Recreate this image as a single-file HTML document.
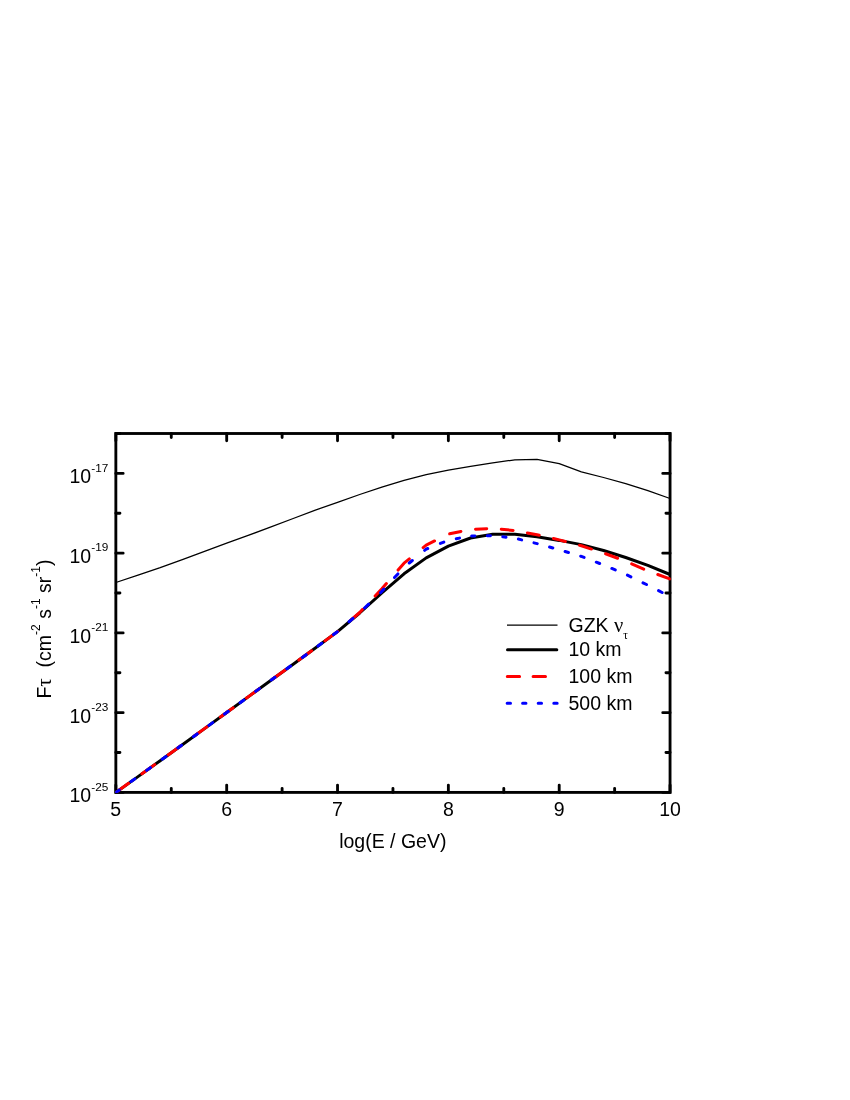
<!DOCTYPE html>
<html><head><meta charset="utf-8"><title>chart</title>
<style>html,body{margin:0;padding:0;background:#fff}svg{display:block;will-change:transform}text{font-family:"Liberation Sans",sans-serif;fill:#000}.sy{font-family:"Liberation Serif",serif}</style></head><body>
<svg width="850" height="1100" viewBox="0 0 850 1100">
<rect width="850" height="1100" fill="#fff"/>
<defs><clipPath id="c"><rect x="115.14999999999999" y="432.8" width="555.60" height="360.30"/></clipPath></defs>
<rect x="115.85" y="433.5" width="554.20" height="358.90" fill="none" stroke="#000" stroke-width="2.85"/>
<path d="M115.85,792.4 V785.10 M115.85,433.5 V440.80 M171.27,792.4 V788.30 M171.27,433.5 V437.60 M226.69,792.4 V785.10 M226.69,433.5 V440.80 M282.11,792.4 V788.30 M282.11,433.5 V437.60 M337.53,792.4 V785.10 M337.53,433.5 V440.80 M392.95,792.4 V788.30 M392.95,433.5 V437.60 M448.37,792.4 V785.10 M448.37,433.5 V440.80 M503.79,792.4 V788.30 M503.79,433.5 V437.60 M559.21,792.4 V785.10 M559.21,433.5 V440.80 M614.63,792.4 V788.30 M614.63,433.5 V437.60 M670.05,792.4 V785.10 M670.05,433.5 V440.80 M115.85,792.40 H123.15 M670.05,792.40 H662.75 M115.85,752.52 H119.95 M670.05,752.52 H665.95 M115.85,712.64 H123.15 M670.05,712.64 H662.75 M115.85,672.77 H119.95 M670.05,672.77 H665.95 M115.85,632.89 H123.15 M670.05,632.89 H662.75 M115.85,593.01 H119.95 M670.05,593.01 H665.95 M115.85,553.13 H123.15 M670.05,553.13 H662.75 M115.85,513.26 H119.95 M670.05,513.26 H665.95 M115.85,473.38 H123.15 M670.05,473.38 H662.75 M115.85,433.50 H119.95 M670.05,433.50 H665.95" fill="none" stroke="#000" stroke-width="2.85" stroke-linecap="round"/>
<g clip-path="url(#c)" fill="none" stroke-linejoin="round">
<path d="M115.85,582.50 L138.02,575.10 L160.19,567.70 L182.35,559.60 L204.52,551.40 L226.69,543.20 L248.86,535.20 L271.03,526.90 L293.19,518.50 L315.36,510.10 L337.53,502.30 L359.70,494.50 L381.87,487.10 L404.03,480.30 L426.20,474.60 L448.37,470.10 L470.54,466.30 L492.71,462.90 L514.87,459.80 L537.04,459.40 L559.21,463.70 L581.38,471.80 L603.55,477.50 L625.71,483.60 L647.88,490.70 L670.05,498.50" stroke="#000" stroke-width="1.25"/>
<path d="M115.85,792.40 L138.02,776.60 L160.19,760.70 L182.35,744.70 L204.52,728.60 L226.69,712.50 L248.86,696.40 L271.03,680.20 L293.19,664.20 L315.36,648.00 L337.53,631.60 L359.70,613.00 L381.87,592.90 L404.03,573.80 L426.20,557.90 L448.37,546.10 L470.54,538.00 L492.71,534.30 L514.87,534.30 L537.04,536.80 L559.21,540.40 L581.38,544.60 L603.55,550.50 L625.71,557.50 L647.88,565.30 L670.05,574.50" stroke="#000" stroke-width="3"/>
<path d="M115.82,792.42 L115.85,792.40 L128.58,783.33 M141.97,773.77 L154.73,764.61 M168.12,754.98 L180.88,745.76 M194.26,736.05 L204.52,728.60 L207.04,726.77 M220.41,717.06 L226.69,712.50 L233.19,707.78 M246.56,698.07 L248.86,696.40 L259.34,688.74 M272.72,678.98 L285.48,669.76 M298.86,660.06 L311.64,650.72 M325.01,640.87 L337.53,631.60 L337.79,631.37 M351.09,619.92 L359.70,612.50 L362.66,609.33 M375.12,596.01 L381.87,588.80 L386.38,583.59 M398.08,570.07 L404.03,563.20 L409.32,558.89 M423.14,547.60 L426.20,545.10 L434.56,540.95 M449.67,533.82 L460.93,531.44 M475.50,529.18 L486.70,528.67 M501.29,529.25 L513.11,530.42 M527.37,532.91 L537.04,534.70 L539.23,535.21 M553.45,538.55 L559.21,539.90 L565.35,541.53 M579.53,545.31 L581.38,545.80 L591.47,549.08 M605.60,553.77 L617.60,558.26 M631.68,563.88 L643.72,569.10 M657.81,574.53 L669.79,578.91" stroke="#f00" stroke-width="3" stroke-linecap="round"/>
<path d="M115.52,792.63 L115.85,792.40 L119.28,789.96 M131.10,781.53 L134.85,778.86 M146.67,770.40 L150.43,767.70 M162.24,759.22 L166.01,756.50 M177.82,747.98 L181.58,745.26 M193.39,736.69 L197.16,733.95 M208.96,725.37 L212.74,722.63 M224.54,714.06 L226.69,712.50 L228.31,711.32 M240.11,702.75 L243.89,700.01 M255.69,691.41 L259.46,688.65 M271.27,680.03 L275.03,677.31 M286.84,668.79 L290.61,666.07 M302.41,657.46 L306.19,654.70 M317.98,646.06 L321.77,643.26 M333.56,634.54 L337.34,631.74 M349.07,621.76 L352.98,618.42 M364.58,607.99 L368.62,604.09 M380.49,592.63 L381.87,591.30 L383.86,589.14 M394.52,577.60 L397.88,573.96 M409.26,563.01 L412.34,560.48 M424.66,550.37 L426.20,549.10 L427.74,548.49 M440.39,543.47 L443.81,542.11 M456.27,538.77 L459.53,538.14 M471.65,535.98 L474.85,535.92 M487.24,535.70 L490.44,535.64 M502.82,536.79 L506.04,537.16 M518.38,539.05 L521.66,539.85 M533.97,542.85 L537.04,543.60 L537.25,543.66 M549.55,547.04 L552.85,547.95 M565.13,551.49 L568.45,552.49 M580.68,556.19 L581.38,556.40 L584.08,557.45 M596.27,562.18 L599.67,563.50 M611.84,568.48 L615.28,569.92 M627.40,575.13 L630.90,576.85 M642.99,582.79 L646.49,584.52 M658.56,590.69 L662.10,592.51" stroke="#00f" stroke-width="3" stroke-linecap="round"/>
</g>
<text x="115.8" y="816.4" font-size="19.5" text-anchor="middle">5</text>
<text x="226.7" y="816.4" font-size="19.5" text-anchor="middle">6</text>
<text x="337.5" y="816.4" font-size="19.5" text-anchor="middle">7</text>
<text x="448.4" y="816.4" font-size="19.5" text-anchor="middle">8</text>
<text x="559.2" y="816.4" font-size="19.5" text-anchor="middle">9</text>
<text x="670.0" y="816.4" font-size="19.5" text-anchor="middle">10</text>
<text x="69.5" y="802.4" font-size="19.5">10<tspan font-size="11.8" dy="-11.8">-25</tspan></text>
<text x="69.5" y="722.6" font-size="19.5">10<tspan font-size="11.8" dy="-11.8">-23</tspan></text>
<text x="69.5" y="642.8" font-size="19.5">10<tspan font-size="11.8" dy="-11.8">-21</tspan></text>
<text x="69.5" y="563.1" font-size="19.5">10<tspan font-size="11.8" dy="-11.8">-19</tspan></text>
<text x="69.5" y="483.3" font-size="19.5">10<tspan font-size="11.8" dy="-11.8">-17</tspan></text>
<text x="392.8" y="848.3" font-size="19.5" text-anchor="middle">log(E / GeV)</text>
<text transform="translate(50.8,698.6) rotate(-90)" font-size="19.5" xml:space="preserve">F<tspan class="sy" font-size="21">τ</tspan>  (cm<tspan font-size="12" dy="-11">-2</tspan><tspan dy="11"> s</tspan><tspan font-size="12" dy="-11">-1</tspan><tspan dy="11"> sr</tspan><tspan font-size="12" dy="-11">-1</tspan><tspan dy="11">)</tspan></text>
<path d="M507,625.1 H557.5" stroke="#000" stroke-width="1.25" fill="none"/>
<path d="M507.5,649.7 H556.8" stroke="#000" stroke-width="3" stroke-linecap="round" fill="none"/>
<path d="M507.3,676.4 H519.6 M533.1,676.4 H545.5" stroke="#f00" stroke-width="3" stroke-linecap="round" fill="none"/>
<path d="M507.15,703.2 H510.5 M522.6,703.2 H525.95 M538.2,703.2 H541.55 M553.8,703.2 H557.15" stroke="#00f" stroke-width="3" stroke-linecap="round" fill="none"/>
<text x="568.5" y="631.6" font-size="19.5">GZK <tspan class="sy" font-size="20.5">ν</tspan><tspan class="sy" font-size="11.5" dy="7">τ</tspan></text>
<text x="568.5" y="656.2" font-size="19.5">10 km</text>
<text x="568.5" y="682.9" font-size="19.5">100 km</text>
<text x="568.5" y="709.6" font-size="19.5">500 km</text>
</svg></body></html>
